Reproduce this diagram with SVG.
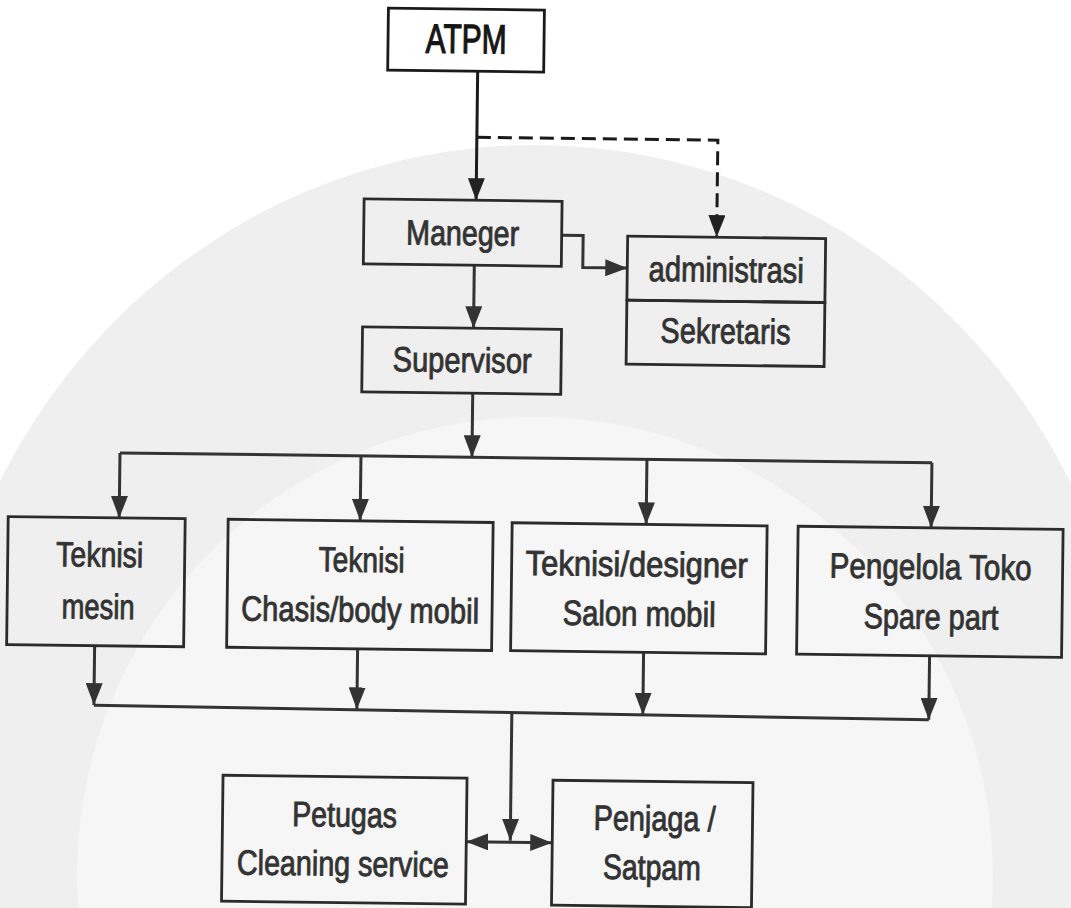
<svg xmlns="http://www.w3.org/2000/svg" width="1071" height="908" viewBox="0 0 1071 908">
<defs>
<style>
.box{fill:none;stroke:#2b2b2b;stroke-width:2.8}
.lbl{font-family:"Liberation Sans Narrow","Liberation Sans",Arial,sans-serif;font-size:35px;fill:#333;stroke:#333;stroke-width:0.9px;text-anchor:middle}
.con{fill:none;stroke:#333;stroke-width:3}
.dash{stroke-dasharray:14 7}
</style>
<marker id="ah" markerUnits="userSpaceOnUse" markerWidth="22" markerHeight="17" refX="22" refY="8.5" orient="auto-start-reverse" viewBox="0 0 22 17"><path d="M0,0 L22,8.5 L0,17 Z" fill="#333"/></marker>
<marker id="ahk" markerUnits="userSpaceOnUse" markerWidth="22" markerHeight="17" refX="22" refY="8.5" orient="auto" viewBox="0 0 22 17"><path d="M0,0 L22,8.5 L0,17 Z" fill="#222"/></marker>
</defs>
<rect x="0" y="0" width="1071" height="908" fill="#ffffff"/>
<g id="watermark">
<ellipse cx="535" cy="760" rx="600" ry="615" fill="#efefef"/>
<circle cx="535" cy="875" r="458" fill="#f6f6f6"/>
</g>
<g transform="rotate(0.7 535 454)">
<g id="connectors">
<path class="con" style="stroke:#1a1a1a" d="M473,72 V201" marker-end="url(#ahk)"/>
<path class="con dash" style="stroke:#1a1a1a" d="M473,138 H714 V235" marker-end="url(#ahk)"/>
<path class="con" d="M559,235 H580.5 V267 H625" marker-end="url(#ah)"/>
<path class="con" d="M472,266 V329" marker-end="url(#ah)"/>
<path class="con" d="M472,394 V458" marker-end="url(#ah)"/>
<path class="con" d="M120,458 H932"/>
<path class="con" d="M120,458 V523" marker-end="url(#ah)"/>
<path class="con" d="M361,458 V523" marker-end="url(#ah)"/>
<path class="con" d="M647,458 V523" marker-end="url(#ah)"/>
<path class="con" d="M932,458 V523" marker-end="url(#ah)"/>
<path class="con" d="M97,651 V710.5" marker-end="url(#ah)"/>
<path class="con" d="M360,651 V711.6" marker-end="url(#ah)"/>
<path class="con" d="M646,651 V713.5" marker-end="url(#ah)"/>
<path class="con" d="M932,651 V715" marker-end="url(#ah)"/>
<path class="con" d="M97,710.5 L932,715"/>
<path class="con" d="M515,712.7 V841" marker-end="url(#ah)"/>
<path class="con" d="M471,842.5 H557" marker-start="url(#ah)" marker-end="url(#ah)"/>
</g>
<g id="atpm"><rect class="box" style="stroke:#1a1a1a" x="383" y="10" width="156" height="62"/><text class="lbl" style="font-size:41px;fill:#151515;stroke:#151515;stroke-width:1.2px" x="461" y="54" textLength="81" lengthAdjust="spacingAndGlyphs">ATPM</text></g>
<g id="maneger"><rect class="box" x="361" y="201" width="198" height="65"/><text class="lbl" x="460" y="246" textLength="113" lengthAdjust="spacingAndGlyphs">Maneger</text></g>
<g id="administrasi"><rect class="box" x="625" y="235" width="198" height="64"/><text class="lbl" x="724" y="279.5" textLength="155" lengthAdjust="spacingAndGlyphs">administrasi</text></g>
<g id="sekretaris"><rect class="box" x="625" y="299" width="198" height="64"/><text class="lbl" x="724" y="341" textLength="130" lengthAdjust="spacingAndGlyphs">Sekretaris</text></g>
<g id="supervisor"><rect class="box" x="361" y="329" width="199" height="65"/><text class="lbl" x="461" y="373" textLength="139" lengthAdjust="spacingAndGlyphs">Supervisor</text></g>
<g id="teknisi-mesin"><rect class="box" x="9" y="523" width="177" height="128"/><text class="lbl" x="101" y="572" textLength="87" lengthAdjust="spacingAndGlyphs">Teknisi</text><text class="lbl" x="100" y="624" textLength="73" lengthAdjust="spacingAndGlyphs">mesin</text></g>
<g id="teknisi-chasis"><rect class="box" x="229" y="523" width="265" height="128"/><text class="lbl" x="363" y="574" textLength="86" lengthAdjust="spacingAndGlyphs">Teknisi</text><text class="lbl" x="362" y="624" textLength="238" lengthAdjust="spacingAndGlyphs">Chasis/body mobil</text></g>
<g id="teknisi-salon"><rect class="box" x="513" y="523" width="255" height="128"/><text class="lbl" x="638" y="575" textLength="222" lengthAdjust="spacingAndGlyphs">Teknisi/designer</text><text class="lbl" x="641" y="624.5" textLength="153" lengthAdjust="spacingAndGlyphs">Salon mobil</text></g>
<g id="pengelola"><rect class="box" x="799" y="523" width="265" height="128"/><text class="lbl" x="932" y="574" textLength="202" lengthAdjust="spacingAndGlyphs">Pengelola Toko</text><text class="lbl" x="933" y="624" textLength="135" lengthAdjust="spacingAndGlyphs">Spare part</text></g>
<g id="petugas"><rect class="box" x="227" y="779" width="244" height="126"/><text class="lbl" x="349" y="829" textLength="105" lengthAdjust="spacingAndGlyphs">Petugas</text><text class="lbl" x="348" y="878" textLength="212" lengthAdjust="spacingAndGlyphs">Cleaning service</text></g>
<g id="penjaga"><rect class="box" x="557" y="780" width="200" height="125"/><text class="lbl" x="659" y="829" textLength="122" lengthAdjust="spacingAndGlyphs">Penjaga /</text><text class="lbl" x="657" y="878" textLength="98" lengthAdjust="spacingAndGlyphs">Satpam</text></g>
</g>
</svg>
